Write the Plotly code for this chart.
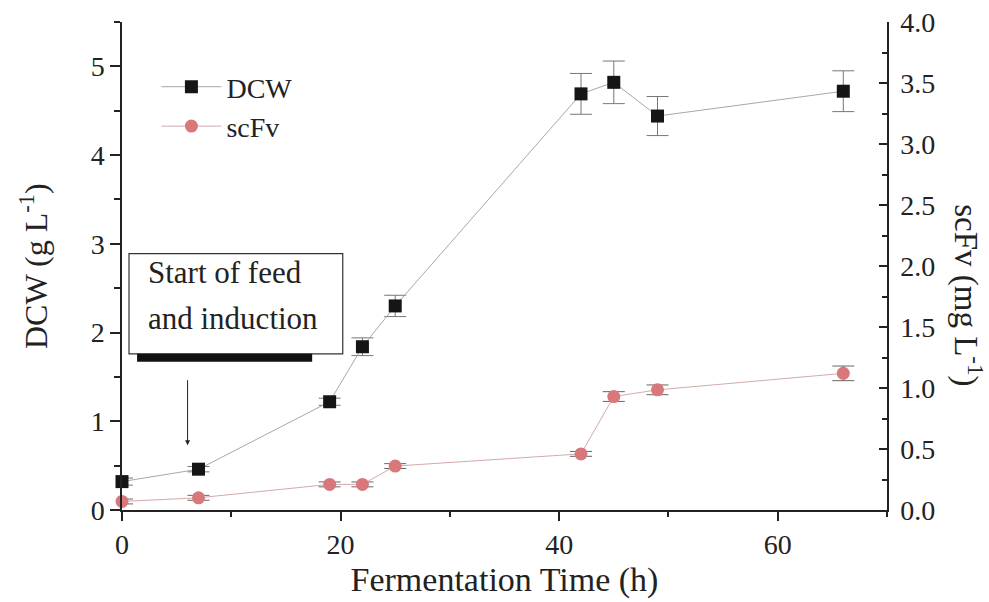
import plotly.graph_objects as go

time_h = [0, 7, 19, 22, 25, 42, 45, 49, 66]
dcw = [0.32, 0.46, 1.22, 1.84, 2.30, 4.69, 4.82, 4.44, 4.72]
dcw_err = [0.04, 0.03, 0.04, 0.10, 0.12, 0.23, 0.24, 0.22, 0.23]
scfv = [0.07, 0.10, 0.21, 0.21, 0.36, 0.46, 0.93, 0.985, 1.12]
scfv_err = [0.02, 0.02, 0.02, 0.02, 0.02, 0.02, 0.04, 0.04, 0.06]

FONT = "Liberation Serif"
TXT = "#222222"

fig = go.Figure()
fig.add_trace(go.Scatter(
    x=time_h, y=dcw, name="DCW", mode="lines+markers",
    line=dict(color="#a8a8a8", width=1),
    marker=dict(symbol="square", size=13, color="#151515"),
    error_y=dict(type="data", array=dcw_err, color="#777777", thickness=1, width=11),
    cliponaxis=False,
))
fig.add_trace(go.Scatter(
    x=time_h, y=scfv, name="scFv", mode="lines+markers", yaxis="y2",
    line=dict(color="#d4aaaa", width=1),
    marker=dict(symbol="circle", size=13, color="#d8787a"),
    error_y=dict(type="data", array=scfv_err, color="#666666", thickness=1, width=11),
    cliponaxis=False,
))

# annotation box for start of feed
fig.add_shape(type="rect", x0=0.64, x1=20.2, y0=1.76, y1=2.89, xref="x", yref="y",
              line=dict(color="#333333", width=1.2), fillcolor="rgba(0,0,0,0)")
fig.add_shape(type="rect", x0=1.38, x1=17.4, y0=1.67, y1=1.76, xref="x", yref="y",
              line=dict(width=0), fillcolor="#111111")
fig.add_annotation(x=2.2, y=2.68, xref="x", yref="y", text="Start of feed",
                   showarrow=False, xanchor="left", yanchor="middle",
                   font=dict(family=FONT, size=31, color=TXT))
fig.add_annotation(x=2.2, y=2.16, xref="x", yref="y", text="and induction",
                   showarrow=False, xanchor="left", yanchor="middle",
                   font=dict(family=FONT, size=31, color=TXT))
fig.add_annotation(x=6, y=0.73, ax=6, ay=1.48, xref="x", yref="y", axref="x", ayref="y",
                   text="", showarrow=True, arrowhead=2, arrowsize=1, arrowwidth=1,
                   arrowcolor="#222222")
# axis titles as rotated text
fig.add_annotation(x=1.106, y=0.44, xref="paper", yref="paper",
                   xanchor="center", yanchor="middle",
                   text="scFv (mg L<sup>-1</sup>)", showarrow=False, textangle=90,
                   font=dict(family=FONT, size=33, color=TXT))
fig.add_annotation(x=-0.115, y=0.5, xref="paper", yref="paper",
                   xanchor="center", yanchor="middle",
                   text="DCW (g L<sup>-1</sup>)", showarrow=False, textangle=-90,
                   font=dict(family=FONT, size=32, color=TXT))

fig.update_layout(
    width=989, height=602,
    margin=dict(l=122, r=102, t=22, b=92, autoexpand=False),
    paper_bgcolor="white", plot_bgcolor="white",
    font=dict(family=FONT, size=28, color=TXT),
    showlegend=True,
    legend=dict(x=0.045, y=0.918, xanchor="left", yanchor="top",
                bgcolor="rgba(0,0,0,0)", font=dict(family=FONT, size=28, color=TXT),
                itemwidth=60, tracegroupgap=0),
    xaxis=dict(
        range=[0, 70], dtick=20, tick0=0, automargin=False,
        showline=True, linecolor="#222222", linewidth=1.5,
        ticks="outside", ticklen=9, tickcolor="#222222", tickwidth=1.5,
        minor=dict(dtick=10, ticks="outside", ticklen=5, tickcolor="#222222"),
        showgrid=False, zeroline=False,
        title=dict(text="Fermentation Time (h)", font=dict(family=FONT, size=34, color=TXT), standoff=8),
        tickfont=dict(family=FONT, size=28, color=TXT),
    ),
    yaxis=dict(
        range=[0, 5.5], dtick=1, tick0=0, automargin=False,
        showline=True, linecolor="#222222", linewidth=1.5,
        ticks="outside", ticklen=10, tickcolor="#222222", tickwidth=1.5,
        minor=dict(dtick=0.5, ticks="outside", ticklen=6, tickcolor="#222222"),
        showgrid=False, zeroline=False,
        tickfont=dict(family=FONT, size=28, color=TXT),
    ),
    yaxis2=dict(
        range=[0, 4.0], dtick=0.5, tick0=0, tickformat=".1f", automargin=False,
        overlaying="y", side="right", anchor="x",
        showline=True, linecolor="#222222", linewidth=1.5,
        ticks="inside", ticklen=8, tickcolor="#222222", tickwidth=1.5,
        minor=dict(dtick=0.25, ticks="inside", ticklen=5, tickcolor="#222222"),
        showgrid=False, zeroline=False, ticklabelstandoff=6,
        tickfont=dict(family=FONT, size=28, color=TXT),
    ),
)

fig.write_html("out.html", config={"displayModeBar": False},
               post_script="document.body.style.margin='0';")
